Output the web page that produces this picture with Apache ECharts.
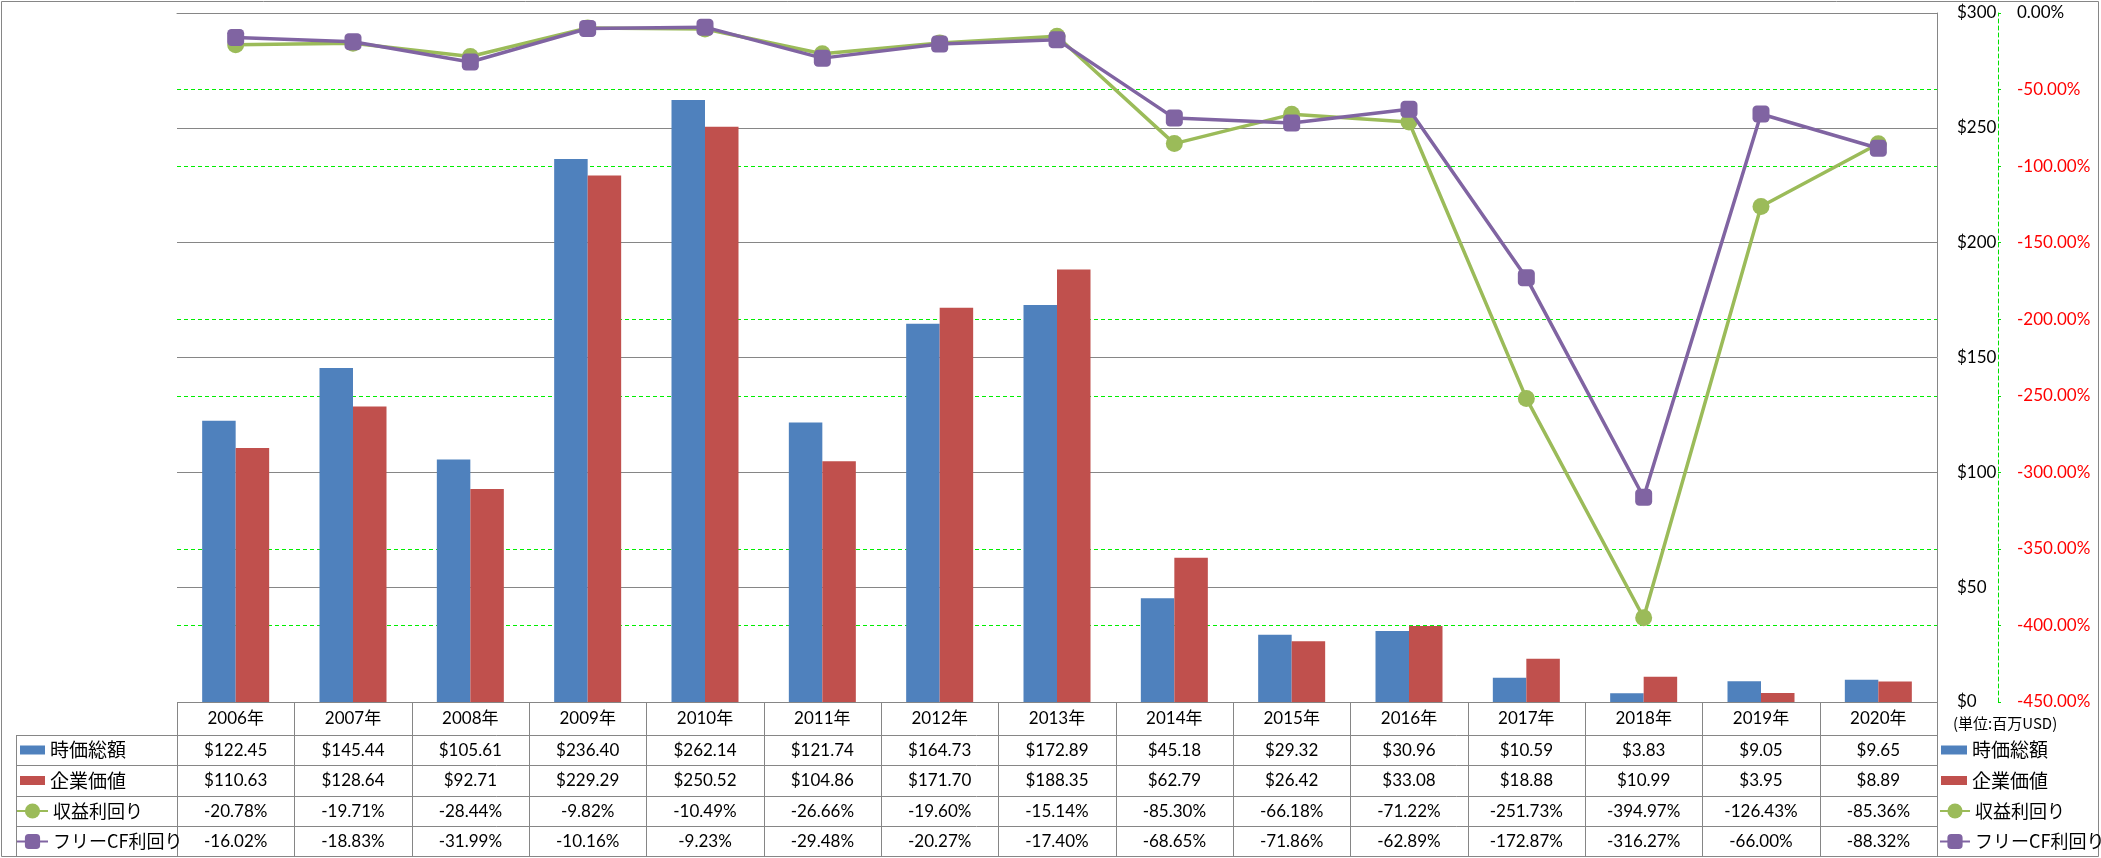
<!DOCTYPE html>
<html>
<head>
<meta charset="utf-8">
<script src="https://cdn.jsdelivr.net/npm/echarts@6/dist/echarts.min.js"></script>
<style>
html,body{margin:0;padding:0;background:#fff;}
#c{width:2101px;height:858px;}
</style>
</head>
<body>
<div id="c"></div>
<script>
const years = ['2006年','2007年','2008年','2009年','2010年','2011年','2012年','2013年','2014年','2015年','2016年','2017年','2018年','2019年','2020年'];
const marketCap = [122.45,145.44,105.61,236.40,262.14,121.74,164.73,172.89,45.18,29.32,30.96,10.59,3.83,9.05,9.65];
const enterpriseValue = [110.63,128.64,92.71,229.29,250.52,104.86,171.70,188.35,62.79,26.42,33.08,18.88,10.99,3.95,8.89];
const earningsYield = [-20.78,-19.71,-28.44,-9.82,-10.49,-26.66,-19.60,-15.14,-85.30,-66.18,-71.22,-251.73,-394.97,-126.43,-85.36];
const fcfYield = [-16.02,-18.83,-31.99,-10.16,-9.23,-29.48,-20.27,-17.40,-68.65,-71.86,-62.89,-172.87,-316.27,-66.00,-88.32];
const seriesNames = ['時価総額','企業価値','収益利回り','フリーCF利回り'];
const unitLabel = '(単位:百万USD)';

const GRID_L = 177, GRID_R = 1937, GRID_T = 13, GRID_B = 702;
const TABLE_LEFT = 16, TABLE_BOTTOM = 856;
const rowLines = [735, 765, 796, 826, 856];
const GRAY = '#868686';
const numFont = 'Lato, "Noto Sans CJK JP", sans-serif';
const cjkFont = '"Noto Sans CJK JP", sans-serif';

const chart = echarts.init(document.getElementById('c'), null, {renderer: 'canvas'});

const graphics = [
  {type: 'rect', shape: {x: 1.5, y: 1.5, width: 2097, height: 855}, style: {fill: 'none', stroke: GRAY, lineWidth: 1}, silent: true},
  {type: 'line', shape: {x1: TABLE_LEFT + 0.5, y1: rowLines[0], x2: TABLE_LEFT + 0.5, y2: TABLE_BOTTOM}, style: {stroke: GRAY, lineWidth: 1}, silent: true},
  {type: 'text', x: 1953, y: 723, style: {text: unitLabel, font: '15px ' + cjkFont, fill: '#000', verticalAlign: 'middle', align: 'left'}, silent: true}
];
rowLines.forEach(y => graphics.push({type: 'line', shape: {x1: TABLE_LEFT, y1: y + 0.5, x2: GRID_R, y2: y + 0.5}, style: {stroke: GRAY, lineWidth: 1}, silent: true}));
// table column separators at category boundaries
const bandW = (GRID_R - GRID_L) / years.length;
for (let k = 0; k <= years.length; k++) {
  const x = Math.round(GRID_L + k * bandW) + 0.5;
  graphics.push({type: 'line', shape: {x1: x, y1: GRID_B, x2: x, y2: TABLE_BOTTOM}, style: {stroke: GRAY, lineWidth: 1}, silent: true});
}

function legendBlock(left, top, names, itemWidth, itemHeight, fontSize, icon) {
  const l = {
    orient: 'vertical', left: left, top: top, padding: 0,
    itemWidth: itemWidth, itemHeight: itemHeight, itemGap: 10.5,
    data: names, selectedMode: false,
    textStyle: {fontSize: fontSize, fontFamily: cjkFont, color: '#000', lineHeight: 20}
  };
  if (icon) l.icon = icon;
  return l;
}

const option = {
  animation: false,
  backgroundColor: '#fff',
  grid: {left: GRID_L, right: 2101 - GRID_R, top: GRID_T, bottom: 858 - GRID_B, containLabel: false},
  legend: [
    legendBlock(20, 740, seriesNames.slice(0, 2), 25, 9, 19, 'rect'),
    legendBlock(16, 801, seriesNames.slice(2), 31, 19, 18),
    legendBlock(1941, 740, seriesNames.slice(0, 2), 26, 9, 19, 'rect'),
    legendBlock(1939, 801, seriesNames.slice(2), 30, 19, 18)
  ],
  xAxis: {
    type: 'category', data: years, boundaryGap: true,
    axisLine: {show: true, lineStyle: {color: GRAY, width: 1}},
    axisTick: {show: false},
    splitLine: {show: false},
    axisLabel: {
      interval: 0, margin: 0, hideOverlap: false,
      formatter: function (v, i) {
        return '{y|' + v + '}\n{d|$' + marketCap[i].toFixed(2) + '}\n{d|$' + enterpriseValue[i].toFixed(2) +
          '}\n{d|' + earningsYield[i].toFixed(2) + '%}\n{d|' + fcfYield[i].toFixed(2) + '%}';
      },
      rich: {
        y: {fontSize: 17, fontFamily: numFont, color: '#000', lineHeight: 33, align: 'center'},
        d: {fontSize: 17, fontFamily: numFont, color: '#000', lineHeight: 30.5, align: 'center'}
      }
    }
  },
  yAxis: [
    {
      type: 'value', position: 'right', min: -450, max: 0, interval: 50, offset: 1998 - GRID_R,
      axisLine: {show: true, lineStyle: {color: '#00e000', type: [4, 3], width: 1}},
      axisTick: {show: true, length: 3, inside: false, lineStyle: {color: '#00e000'}},
      splitLine: {show: true, showMinLine: false, showMaxLine: false, lineStyle: {color: '#00ee00', type: [4, 3], width: 1}},
      axisLabel: {
        margin: 19,
        formatter: function (v) { return v < 0 ? '{r|' + v.toFixed(2) + '%}' : '{k|' + Math.abs(v).toFixed(2) + '%}'; },
        rich: {
          r: {fontSize: 17, fontFamily: numFont, color: '#ff0000'},
          k: {fontSize: 17, fontFamily: numFont, color: '#000'}
        }
      }
    },
    {
      type: 'value', position: 'right', min: 0, max: 300, interval: 50, offset: 0,
      axisLine: {show: true, lineStyle: {color: GRAY, width: 1}},
      axisTick: {show: false},
      splitLine: {show: true, lineStyle: {color: GRAY, width: 1}},
      axisLabel: {margin: 20, fontSize: 17, fontFamily: numFont, color: '#000', formatter: v => '$' + v}
    }
  ],
  series: [
    {name: seriesNames[0], type: 'bar', yAxisIndex: 1, data: marketCap, barWidth: 33.5, barGap: '0%', itemStyle: {color: '#4F81BD'}},
    {name: seriesNames[1], type: 'bar', yAxisIndex: 1, data: enterpriseValue, barWidth: 33.5, barGap: '0%', itemStyle: {color: '#C0504D'}},
    {name: seriesNames[2], type: 'line', yAxisIndex: 0, data: earningsYield, symbol: 'circle', symbolSize: 17,
      lineStyle: {color: '#9BBB59', width: 3.5}, itemStyle: {color: '#9BBB59'}, z: 3},
    {name: seriesNames[3], type: 'line', yAxisIndex: 0, data: fcfYield, symbol: 'roundRect', symbolSize: 17,
      lineStyle: {color: '#8064A2', width: 3.5}, itemStyle: {color: '#8064A2'}, z: 4}
  ],
  graphic: graphics
};
chart.setOption(option);
</script>
</body>
</html>
